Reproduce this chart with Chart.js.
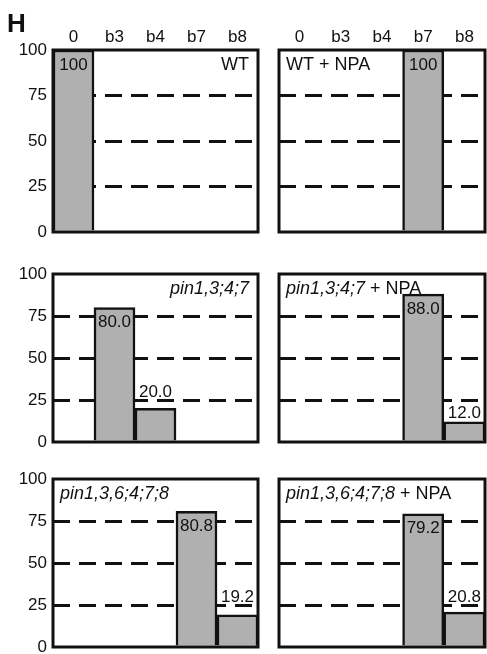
<!DOCTYPE html>
<html>
<head>
<meta charset="utf-8">
<script src="https://cdn.jsdelivr.net/npm/chart.js@4.4.1/dist/chart.umd.min.js"></script>
<style>
  html, body { margin: 0; padding: 0; background: #ffffff; }
  body { width: 487px; height: 654px; position: relative; overflow: hidden; }
  canvas { position: absolute; }
</style>
</head>
<body>
<canvas id="p0"></canvas>
<canvas id="p1"></canvas>
<canvas id="p2"></canvas>
<canvas id="p3"></canvas>
<canvas id="p4"></canvas>
<canvas id="p5"></canvas>
<script>
// Categories along the top axis and the y-axis tick values
const categories = ['0', 'b3', 'b4', 'b7', 'b8'];
const yTicks = [0, 25, 50, 75, 100];
const dashedLevels = [25, 50, 75];

// Percentages per category for each genotype / treatment
const wt          = [100, 0, 0, 0, 0];
const wtNpa       = [0, 0, 0, 100, 0];
const pin4        = [0, 80.0, 20.0, 0, 0];
const pin4Npa     = [0, 0, 0, 88.0, 12.0];
const pin6        = [0, 0, 0, 80.8, 19.2];
const pin6Npa     = [0, 0, 0, 79.2, 20.8];

// Panel titles (italic pieces are gene names)
const titleWt       = [{ text: 'WT', italic: false }];
const titleWtNpa    = [{ text: 'WT + NPA', italic: false }];
const titlePin4     = [{ text: 'pin1,3;4;7', italic: true }];
const titlePin4Npa  = [{ text: 'pin1,3;4;7', italic: true }, { text: ' + NPA', italic: false }];
const titlePin6     = [{ text: 'pin1,3,6;4;7;8', italic: true }];
const titlePin6Npa  = [{ text: 'pin1,3,6;4;7;8', italic: true }, { text: ' + NPA', italic: false }];

// Layout of the 3 x 2 grid of panels (canvas boxes and plot areas)
const columns = [
  { left: 0,   width: 270, plotLeft: 53,  plotRight: 258 },
  { left: 264, width: 223, plotLeft: 279, plotRight: 485 }
];
const rows = [
  { top: 0,   height: 245, plotTop: 50,  plotBottom: 232 },
  { top: 244, height: 211, plotTop: 259, plotBottom: 442 },
  { top: 449, height: 205, plotTop: 464, plotBottom: 647 }
];

const FONT = '"Liberation Sans", Arial, Helvetica, sans-serif';
const INK = '#111111';
const BAR_FILL = '#b0b0b0';
const TICK_SIZE = 17;
const VALUE_SIZE = 17;
const TITLE_SIZE = 18;

const panels = [
  { id: 'p0', values: wt,      title: titleWt,      align: 'right', col: 0, row: 0, letter: 'H' },
  { id: 'p1', values: wtNpa,   title: titleWtNpa,   align: 'left',  col: 1, row: 0 },
  { id: 'p2', values: pin4,    title: titlePin4,    align: 'right', col: 0, row: 1 },
  { id: 'p3', values: pin4Npa, title: titlePin4Npa, align: 'left',  col: 1, row: 1 },
  { id: 'p4', values: pin6,    title: titlePin6,    align: 'left',  col: 0, row: 2 },
  { id: 'p5', values: pin6Npa, title: titlePin6Npa, align: 'left',  col: 1, row: 2 }
];

function valueText(v) {
  return v === 100 ? '100' : v.toFixed(1);
}

// Frame, value labels, panel title and panel letter
const panelDecor = {
  id: 'panelDecor',
  afterDatasetsDraw(chart, args, opts) {
    const { ctx, chartArea: a } = chart;
    const y = chart.scales.y;
    const meta = chart.getDatasetMeta(0);
    const vals = chart.data.datasets[0].data;
    const dashYs = dashedLevels.map(v => y.getPixelForValue(v));

    ctx.save();
    ctx.fillStyle = INK;
    ctx.textBaseline = 'alphabetic';

    // value labels: inside the top of tall bars, above short ones
    ctx.font = VALUE_SIZE + 'px ' + FONT;
    ctx.textAlign = 'center';
    meta.data.forEach((bar, i) => {
      const v = vals[i];
      if (!v) return;
      let base;
      if (v >= 50) {
        base = bar.y + 19.5;
      } else {
        base = bar.y - 4;
        dashYs.forEach(g => { if (g > base - 14 && g < base + 3) base = g - 3; });
      }
      ctx.fillText(valueText(v), bar.x, base);
    });

    // panel frame
    ctx.lineWidth = 3;
    ctx.strokeStyle = INK;
    ctx.strokeRect(a.left, a.top, a.right - a.left, a.bottom - a.top);

    // title
    const pieces = opts.title || [];
    const fontFor = p => (p.italic ? 'italic ' : '') + TITLE_SIZE + 'px ' + FONT;
    let total = 0;
    pieces.forEach(p => { ctx.font = fontFor(p); total += ctx.measureText(p.text).width; });
    let x = opts.align === 'right' ? a.right - 9 - total : a.left + 7;
    const ty = a.top + 19.5;
    ctx.textAlign = 'left';
    pieces.forEach(p => {
      ctx.font = fontFor(p);
      ctx.fillText(p.text, x, ty);
      x += ctx.measureText(p.text).width;
    });

    // panel letter
    if (opts.letter) {
      ctx.font = 'bold 26px ' + FONT;
      ctx.textAlign = 'left';
      ctx.fillText(opts.letter, 7, 32);
    }
    ctx.restore();
  }
};

panels.forEach(p => {
  const c = columns[p.col];
  const r = rows[p.row];
  const canvas = document.getElementById(p.id);
  canvas.width = c.width;
  canvas.height = r.height;
  canvas.style.left = c.left + 'px';
  canvas.style.top = r.top + 'px';

  const showX = p.row === 0;
  const showY = p.col === 0;

  new Chart(canvas, {
    type: 'bar',
    data: {
      labels: categories,
      datasets: [{
        data: p.values,
        backgroundColor: BAR_FILL,
        borderColor: INK,
        borderWidth: 2.5,
        borderSkipped: 'start',
        barPercentage: 1,
        categoryPercentage: 1
      }]
    },
    options: {
      responsive: false,
      animation: false,
      devicePixelRatio: 1,
      layout: {
        padding: {
          left: 0,
          right: c.width - (c.plotRight - c.left),
          top: showX ? 0 : r.plotTop - r.top,
          bottom: r.top + r.height - r.plotBottom
        }
      },
      plugins: {
        legend: { display: false },
        tooltip: { enabled: false },
        panelDecor: { title: p.title, align: p.align, letter: p.letter }
      },
      scales: {
        x: {
          type: 'category',
          position: 'top',
          display: showX,
          offset: true,
          grid: { display: false, drawTicks: false },
          border: { display: false },
          ticks: {
            display: showX,
            color: INK,
            font: { family: FONT, size: TICK_SIZE },
            padding: 2,
            maxRotation: 0,
            autoSkip: false
          },
          afterFit(scale) {
            scale.height = r.plotTop - r.top;
            scale.paddingLeft = scale.paddingRight = 0;
          }
        },
        y: {
          min: 0,
          max: 100,
          position: 'left',
          afterBuildTicks(scale) {
            scale.ticks = yTicks.map(v => ({ value: v }));
          },
          grid: {
            drawTicks: false,
            lineWidth: 3,
            color: ctx => (dashedLevels.includes(ctx.tick && ctx.tick.value) ? INK : 'rgba(0,0,0,0)')
          },
          border: { display: false, dash: [17, 9] },
          ticks: {
            display: showY,
            color: INK,
            font: { family: FONT, size: TICK_SIZE },
            padding: 6
          },
          afterFit(scale) {
            scale.width = c.plotLeft - c.left;
            scale.paddingTop = scale.paddingBottom = 0;
          }
        }
      }
    },
    plugins: [panelDecor]
  });
});
</script>
</body>
</html>
